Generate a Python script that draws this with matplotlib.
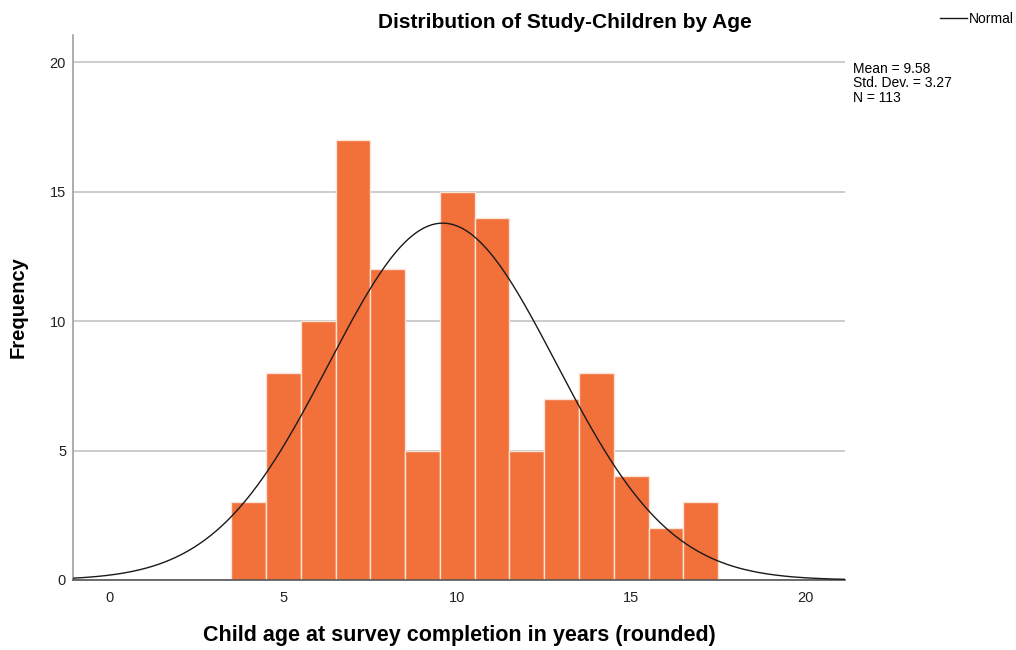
import numpy as np
import matplotlib.pyplot as plt
from matplotlib.lines import Line2D

# ages (rounded) and counts
ages = [4, 5, 6, 7, 8, 9, 10, 11, 12, 13, 14, 15, 16, 17]
counts = [3, 8, 10, 17, 12, 5, 15, 14, 5, 7, 8, 4, 2, 3]
mean_age = 9.58
sd_age = 3.27
n_total = 113
bin_width = 1.0

plt.rcParams['font.family'] = ['Liberation Sans', 'DejaVu Sans']

fig = plt.figure(figsize=(10.16, 6.5), dpi=100)
ax = fig.add_axes([0.0719, 0.1077, 0.7598, 0.8383])

ax.bar(ages, counts, width=bin_width, color='#f2703a', edgecolor='#fbe3d6',
       linewidth=1.0, zorder=2)

# normal curve scaled to the counts
xs = np.linspace(-1.05, 21.2, 400)
ys = n_total * bin_width / (sd_age * np.sqrt(2 * np.pi)) * np.exp(-0.5 * ((xs - mean_age) / sd_age) ** 2)
ax.plot(xs, ys, color='#1a1a1a', linewidth=1.0, zorder=3)

ax.set_xlim(-1.05, 21.15)
ax.set_ylim(0, 21.05)
ax.set_xticks([0, 5, 10, 15, 20])
ax.set_yticks([0, 5, 10, 15, 20])
ax.tick_params(length=0, labelsize=10.5, colors='#222222')
ax.tick_params(axis='x', pad=8)
ax.tick_params(axis='y', pad=5)
ax.yaxis.grid(True, color='#c8c8c8', linewidth=1.3, zorder=0)
ax.set_axisbelow(True)
for s in ['top', 'right']:
    ax.spines[s].set_visible(False)
ax.spines['left'].set_color('#a0a0a0')
ax.spines['left'].set_linewidth(1.2)
ax.spines['bottom'].set_color('#555555')
ax.spines['bottom'].set_linewidth(1.2)

ax.set_xlabel('Child age at survey completion in years (rounded)', fontsize=15.5,
              fontweight='bold', labelpad=14)
ax.set_ylabel('Frequency', fontsize=14.5, fontweight='bold', labelpad=16)
fig.text(0.556, 0.966, 'Distribution of Study-Children by Age', ha='center', va='center',
         fontsize=15, fontweight='bold')

# stats box and legend on the right
fig.text(0.840, 0.905, 'Mean = %.2f\nStd. Dev. = %.2f\nN = %d' % (mean_age, sd_age, n_total),
         ha='left', va='top', fontsize=10, linespacing=1.05)
fig.add_artist(Line2D([0.925, 0.952], [0.972, 0.972], color='#1a1a1a', linewidth=1.0))
fig.text(0.954, 0.971, 'Normal', ha='left', va='center', fontsize=10)

fig.savefig('out.png', dpi=100)
